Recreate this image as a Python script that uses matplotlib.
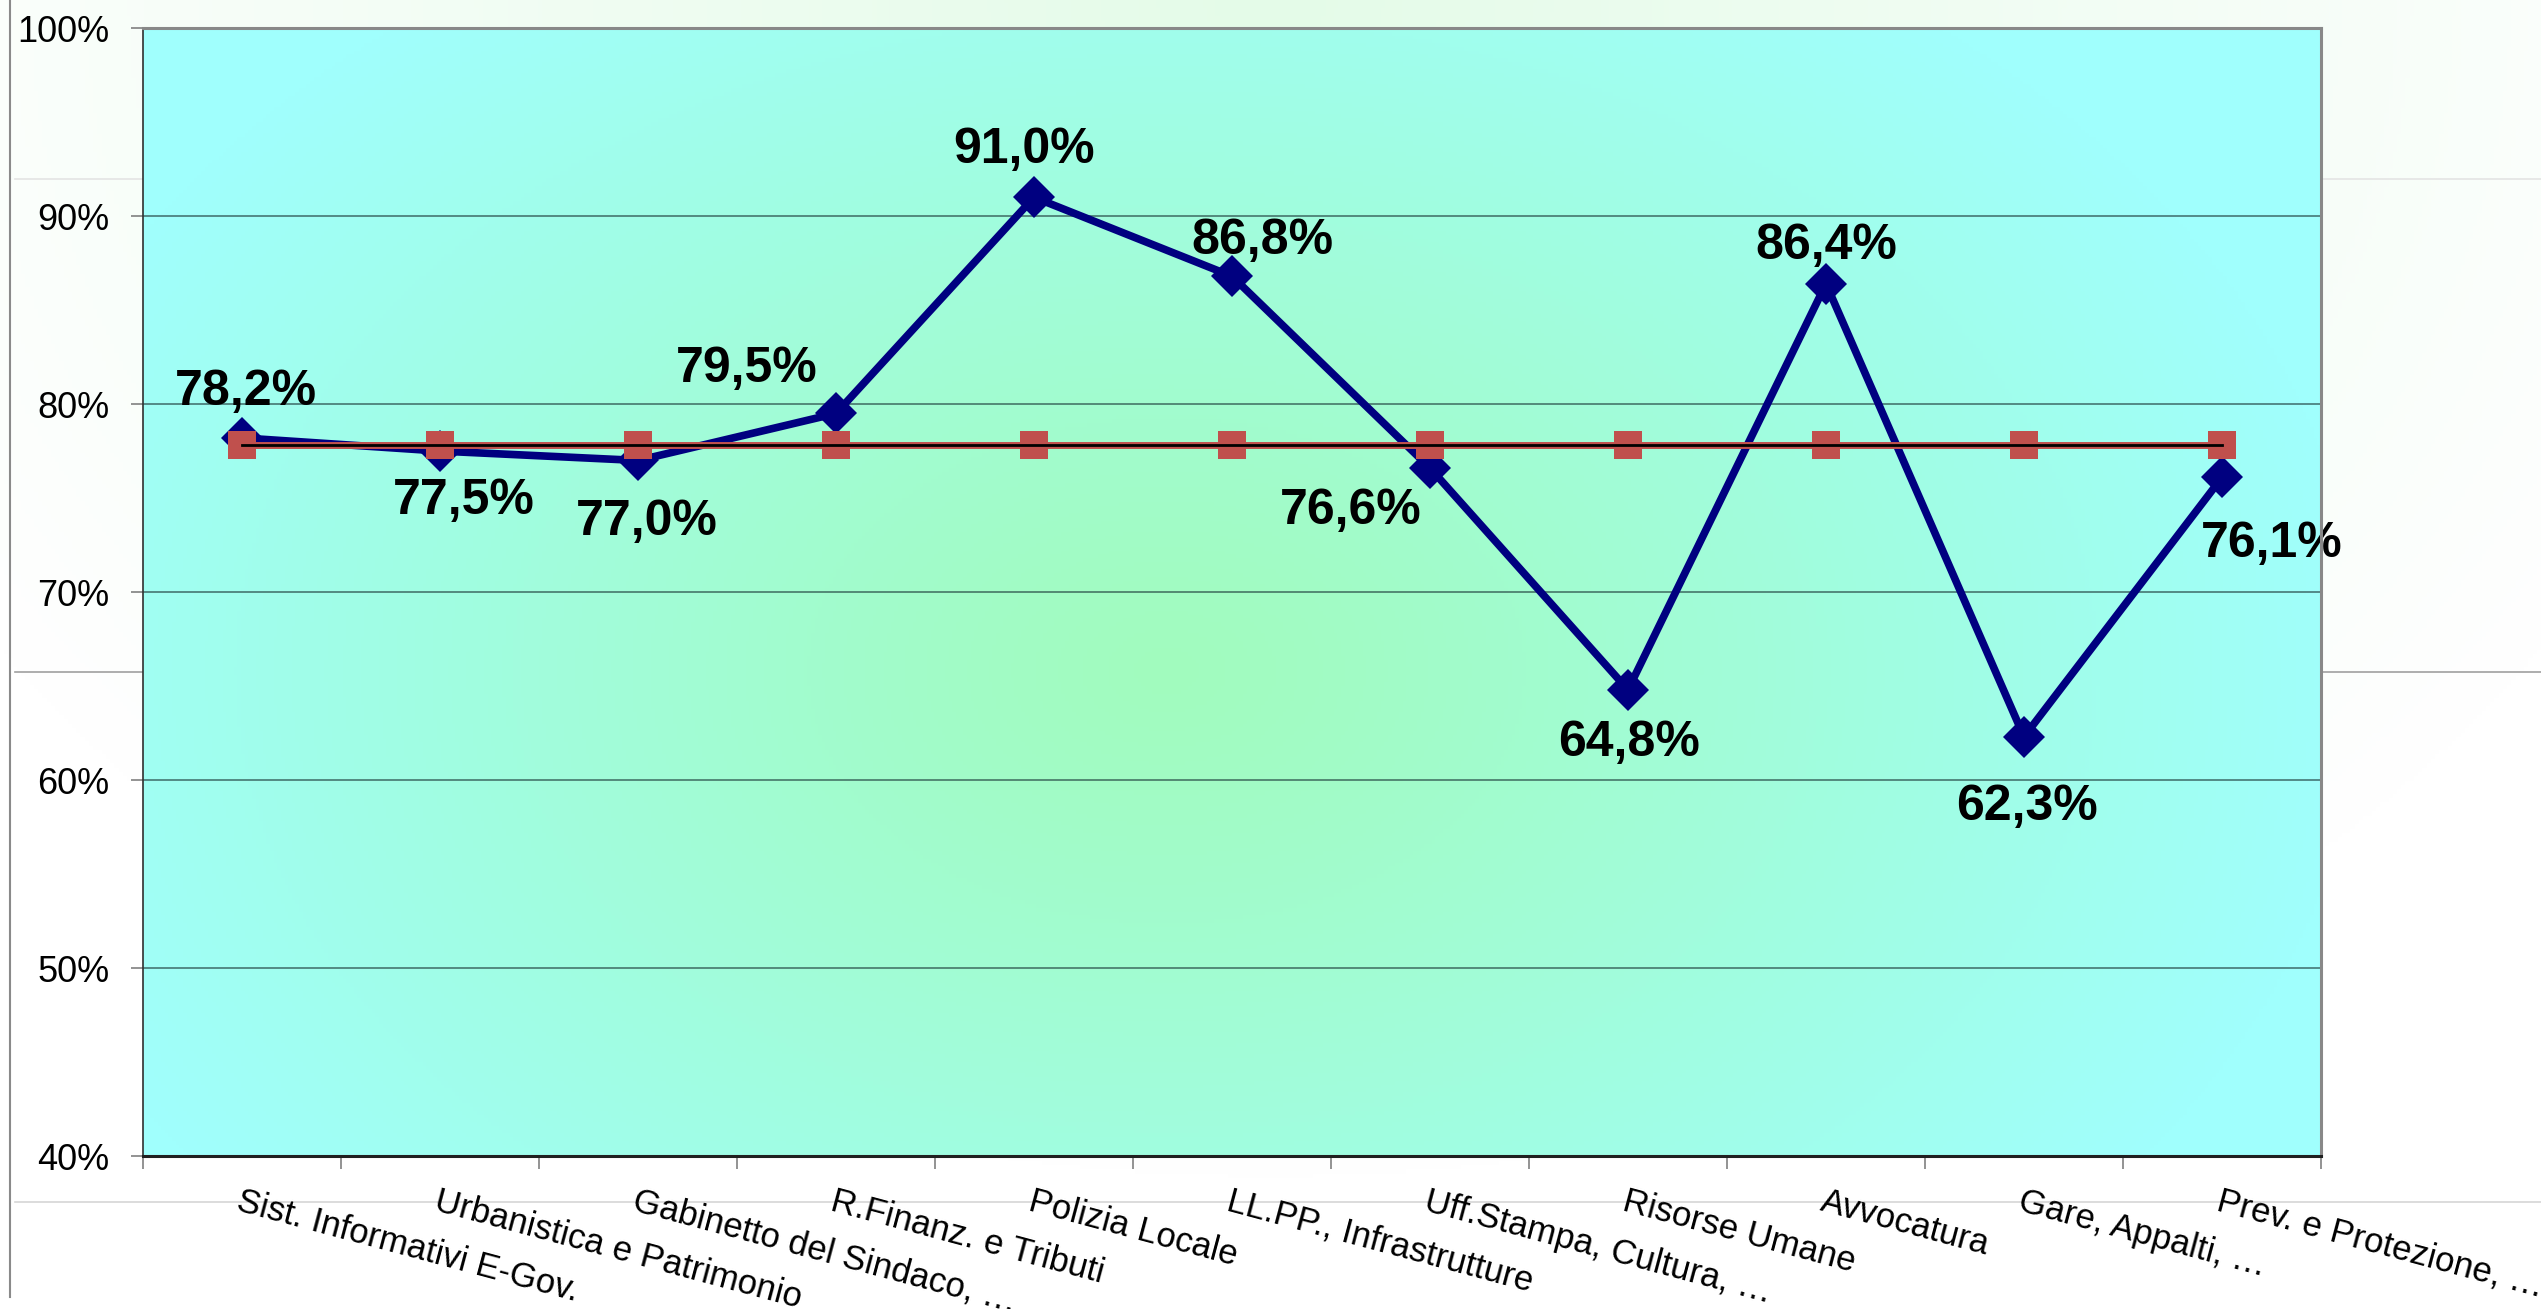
import numpy as np
import matplotlib
matplotlib.use("Agg")
import matplotlib.pyplot as plt
from matplotlib.lines import Line2D
from matplotlib.colors import to_rgb
import matplotlib.transforms as mtransforms

plt.rcParams['font.family'] = ['Liberation Sans', 'DejaVu Sans']

# ---------------- data ----------------
categories = [
    "Sist. Informativi E-Gov.",
    "Urbanistica e Patrimonio",
    "Gabinetto del Sindaco, \u2026",
    "R.Finanz. e Tributi",
    "Polizia Locale",
    "LL.PP., Infrastrutture",
    "Uff.Stampa, Cultura, \u2026",
    "Risorse Umane",
    "Avvocatura",
    "Gare, Appalti, \u2026",
    "Prev. e Protezione, \u2026",
]
values = [78.2, 77.5, 77.0, 79.5, 91.0, 86.8, 76.6, 64.8, 86.4, 62.3, 76.1]
average = [77.8, 77.8, 77.8, 77.8, 77.8, 77.8, 77.8, 77.8, 77.8, 77.8, 77.8]
y_ticks = [40, 50, 60, 70, 80, 90, 100]

# label offsets (points) for the data labels
label_offsets = [(3, 34), (17, -35), (6, -44), (-64, 33), (-7, 35), (22, 26),
                 (-57, -30), (1, -38), (0, 28), (2, -50), (36, -47)]

W, H = 2541, 1310
DPI = 100
fig = plt.figure(figsize=(25.41, 13.099), dpi=DPI)
fig.patch.set_facecolor('white')

# figure background subtle gradient
bg = fig.add_axes([0, 0, 1, 1], zorder=-10)
bg.set_axis_off()
yy, xx = np.mgrid[0:1:300j, 0:1:600j]
d = np.sqrt(((xx - 0.5) / 0.6) ** 2 + ((yy - 0.0) / 0.9) ** 2)
t = np.clip(d, 0, 1)[..., None]
c0 = np.array(to_rgb('#e4fbe8'))
c1 = np.array(to_rgb('#ffffff'))
img = c0 * (1 - t) + c1 * t
bg.imshow(img, extent=[0, 1, 0, 1], aspect='auto', origin='upper')
bg.set_xlim(0, 1)
bg.set_ylim(0, 1)

# slide frame lines
def fl(x0, x1, y0, y1, color, lw):
    fig.add_artist(Line2D([x0 / W, x1 / W], [1 - y0 / H, 1 - y1 / H],
                          color=color, lw=lw, zorder=-5, transform=fig.transFigure))

fl(15, W, 180, 180, '#e4e4e4', 1.2)
fl(15, W, 673, 673, '#a0a0a0', 1.2)
fl(15, W, 1203, 1203, '#d6d6d6', 1.2)
fl(10, 10, 0, 1298, '#8a8a8a', 1.5)

# ---------------- main axes ----------------
left, right, top, bottom = 143, 2321, 29, 1157
ax = fig.add_axes([left / W, 1 - bottom / H, (right - left) / W, (bottom - top) / H])
ax.patch.set_alpha(0)

# plot area gradient (light green centre -> cyan edges)
gy, gx = np.mgrid[0:1:300j, 0:1:600j]
r = np.sqrt(((gx - 0.47) / 0.55) ** 2 + ((gy - 0.57) / 0.75) ** 2)
tt = np.clip(r, 0, 1)[..., None] ** 1.15
cc = np.array(to_rgb('#a2fbbe'))
ce = np.array(to_rgb('#a0fffd'))
gimg = cc * (1 - tt) + ce * tt
ax.imshow(gimg, extent=[0, 1, 0, 1], transform=ax.transAxes, aspect='auto',
          origin='upper', zorder=0)

x = np.arange(len(categories))
ax.set_xlim(-0.5, len(categories) - 0.5)
ax.set_ylim(40, 100)

ax.set_axisbelow(True)
ax.yaxis.grid(True, color='#1e3c3c', alpha=0.6, lw=1.4)
ax.xaxis.grid(False)

# value series
ax.plot(x, values, color='#000080', lw=5.5, marker='D', ms=21, mec='#000080',
        mew=0, zorder=3, solid_joinstyle='miter')
# average series
ax.plot(x, average, color='#c0504d', lw=5, marker='s', ms=20, mec='#c0504d',
        mew=0, zorder=4)
ax.plot(x, average, color='black', lw=2, zorder=5)

for xi, v, (dx, dy) in zip(x, values, label_offsets):
    ax.annotate(f"{v:.1f}%".replace('.', ','), (xi, v), xytext=(dx, dy),
                textcoords='offset points', ha='center', va='center',
                fontsize=36, fontweight='bold', color='black', zorder=6)

# y axis
ax.set_yticks(y_ticks)
ax.set_yticklabels([f"{t}%" for t in y_ticks], fontsize=26)
ax.tick_params(axis='y', length=9, width=1.2, color='#808080', pad=15, direction='out')

# x axis: ticks at category boundaries, labels as rotated text
ax.set_xticks(np.arange(-0.5, len(categories), 1.0))
ax.set_xticklabels([])
ax.tick_params(axis='x', length=9, width=1.2, color='#808080', direction='out')

trans = mtransforms.offset_copy(ax.get_xaxis_transform(), fig=fig, x=0, y=-20, units='points')
for xi, lab in zip(x, categories):
    ax.text(xi, 0, lab, transform=trans, rotation=-15, rotation_mode='anchor',
            ha='left', va='top', fontsize=25, color='black', clip_on=False)

for s in ['top', 'right']:
    ax.spines[s].set_color('#888888')
    ax.spines[s].set_linewidth(2.2)
ax.spines['left'].set_color('#303030')
ax.spines['left'].set_linewidth(1.2)
ax.spines['bottom'].set_color('#202020')
ax.spines['bottom'].set_linewidth(2.2)
for s in ax.spines.values():
    s.set_zorder(7)

fig.savefig('out.png', dpi=DPI)
